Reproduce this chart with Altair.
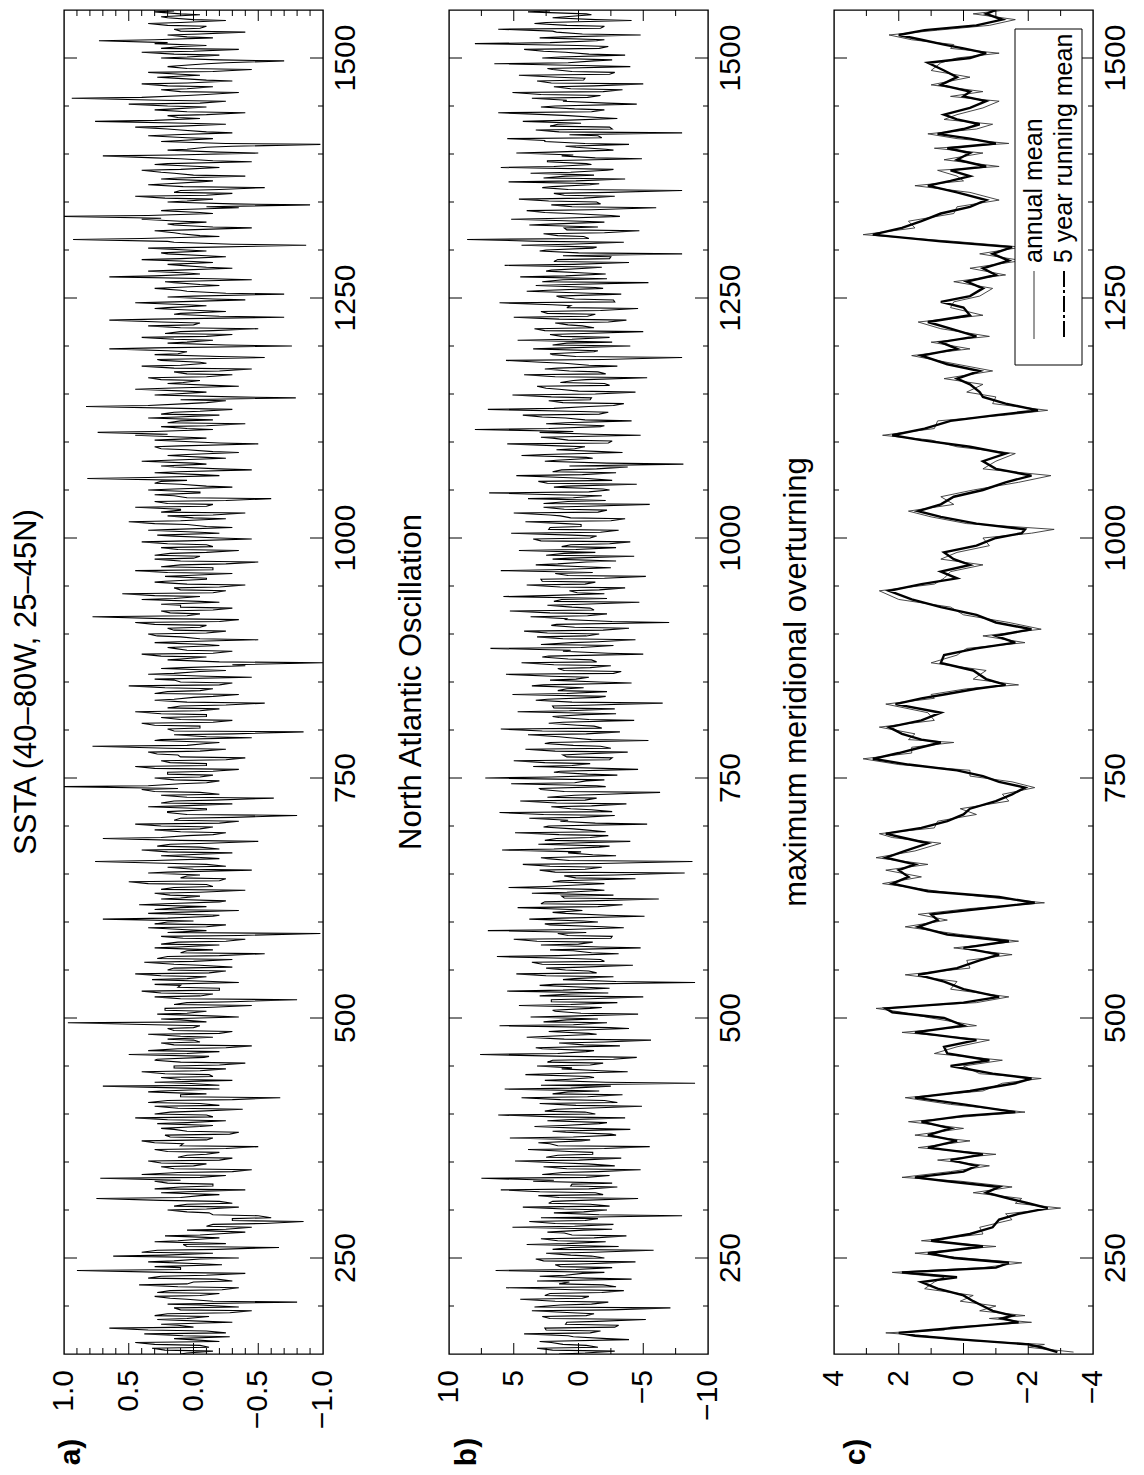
import altair as alt
import pandas as pd

FONT = "Liberation Sans"
W, H = 259, 1344
SPACING = 126
YEAR_DOMAIN = [150, 1550]

# ---------------- panel a: SSTA, years 150, 153, 156, ... ----------------
A_VALS = [
    0.10, -0.15, 0.32, -0.05, 0.45, 0.02, -0.28, 0.38, -0.10, 0.65,
    0.12, -0.30, 0.28, -0.12, 0.20, -0.45, 0.15, -0.05, -0.80, 0.05,
    0.30, -0.20, 0.18, -0.35, 0.42, 0.00, -0.18, 0.25, -0.40, 0.90,
    0.10, -0.22, 0.35, -0.05, 0.62, -0.15, 0.28, -0.66, 0.08, 0.30,
    -0.10, 0.22, -0.30, 0.05, -0.45, -0.15, -0.85, -0.30, -0.50, -0.12,
    0.20, -0.35, 0.05, -0.20, 0.75, -0.05, 0.25, -0.40, 0.10, -0.15,
    0.30, 0.72, -0.25, 0.12, -0.45, 0.25, -0.10, 0.35, -0.30, 0.05,
    -0.20, 0.30, -0.50, 0.08, 0.40, -0.15, 0.22, -0.35, 0.15, -0.05,
    0.28, -0.25, 0.45, -0.10, 0.18, -0.38, 0.30, -0.05, 0.20, -0.67,
    0.10, 0.35, -0.20, 0.70, 0.05, -0.30, 0.25, -0.12, 0.40, -0.25,
    0.15, -0.40, 0.30, -0.08, 0.50, -0.20, 0.12, -0.45, 0.25, 0.00,
    -0.15, 0.35, -0.30, 0.20, -0.05, 0.97, 0.10, -0.35, 0.28, -0.10,
    0.22, -0.45, 0.05, -0.80, 0.30, -0.15, 0.40, -0.20, 0.10, -0.35,
    0.32, -0.10, 0.45, -0.25, 0.15, -0.05, 0.38, -0.30, 0.20, -0.55,
    0.05, 0.30, -0.20, 0.12, -0.40, 0.25, -0.98, -0.10, 0.35, -0.25,
    0.20, 0.70, -0.15, 0.35, -0.35, 0.10, 0.42, -0.20, 0.25, -0.05,
    0.30, -0.40, 0.15, -0.10, 0.50, -0.25, 0.05, 0.35, -0.45, 0.20,
    -0.10, 0.76, -0.20, 0.25, -0.30, 0.40, -0.05, 0.18, -0.50, 0.70,
    0.05, -0.25, 0.30, -0.15, 0.45, -0.35, 0.10, -0.80, 0.20, -0.10,
    0.35, -0.30, 0.15, -0.62, 0.25, -0.05, 0.40, 1.00, 0.10, -0.20,
    0.30, -0.15, 0.20, -0.35, 0.45, -0.10, 0.25, -0.40, 0.12, 0.35,
    -0.25, 0.78, -0.10, 0.30, -0.45, 0.15, -0.85, 0.20, -0.05, 0.40,
    -0.30, 0.25, -0.10, 0.45, -0.20, 0.10, -0.55, 0.30, 0.00, -0.35,
    0.20, -0.15, 0.50, -0.30, 0.15, -0.45, 0.35, -0.05, 0.25, -0.40,
    -1.00, 0.20, -0.10, 0.40, -0.30, 0.15, -0.20, 0.30, -0.50, 0.10,
    0.35, -0.25, 0.20, -0.10, 0.45, -0.35, 0.78, -0.05, 0.25, -0.30,
    0.10, -0.20, 0.40, -0.05, 0.55, -0.25, 0.15, -0.40, 0.30, -0.10,
    0.22, -0.30, 0.45, -0.15, 0.10, -0.50, 0.30, -0.05, 0.18, -0.35,
    0.25, -0.10, 0.40, -0.45, 0.15, -0.20, 0.35, -0.30, 0.05, 0.50,
    -0.25, 0.20, -0.40, 0.10, 0.45, -0.15, 0.30, -0.60, 0.15, -0.05,
    0.35, -0.30, 0.10, 0.25, 0.82, -0.20, 0.30, -0.45, 0.15, -0.10,
    0.40, -0.25, 0.20, -0.35, 0.05, 0.30, -0.50, 0.15, -0.10, 0.45,
    0.74, -0.15, 0.25, -0.40, 0.10, 0.35, -0.20, 0.15, -0.30, 0.83,
    0.05, -0.25, -0.79, 0.30, -0.10, 0.45, -0.35, 0.20, -0.05, 0.35,
    -0.30, 0.15, -0.45, 0.40, -0.10, 0.25, -0.55, 0.30, 0.05, 0.65,
    -0.76, 0.20, -0.15, 0.40, -0.30, 0.10, -0.50, 0.35, -0.05, 0.65,
    -0.70, 0.15, -0.25, 0.30, -0.10, 0.45, -0.40, 0.20, -0.70, 0.05,
    0.30, -0.20, 0.15, -0.45, 0.65, -0.05, 0.35, -0.30, 0.10, -0.15,
    0.40, -0.25, 0.20, -0.10, 0.35, -0.87, 0.15, 0.93, -0.20, 0.10,
    0.30, -0.45, 0.15, -0.10, 0.40, 1.00, -0.15, 0.25, -0.35, -0.90,
    0.20, -0.15, 0.45, -0.30, 0.10, -0.55, 0.35, -0.05, 0.25, -0.40,
    0.15, 0.40, -0.20, 0.30, -0.45, 0.10, 0.70, -0.50, 0.20, -0.10,
    -0.98, 0.25, -0.15, 0.35, -0.30, 0.10, 0.45, -0.25, 0.76, -0.05,
    0.20, -0.40, 0.30, -0.10, 0.50, -0.25, 0.94, 0.05, -0.35, 0.25,
    -0.15, 0.40, -0.30, 0.15, -0.05, 0.35, -0.45, 0.20, -0.10, -0.70,
    0.25, -0.20, 0.40, -0.35, 0.10, 0.30, 0.73, -0.15, 0.20, -0.40,
    0.15, -0.10, 0.35, -0.25, 0.20, -0.05, 0.30,
]
# panel a, in-between years 151, 154, 157, ...
A_VALS2 = [
    0.05, 0.22, -0.12, 0.30, -0.20, 0.15, 0.08, -0.25, 0.35, 0.00,
    0.25, -0.10, 0.05, 0.30, -0.28, 0.10, -0.35, 0.20, -0.15, 0.18,
    -0.05, 0.28, -0.22, 0.12, 0.05, -0.30, 0.35, -0.10, 0.20, 0.10,
    0.30, -0.05, 0.15, -0.35, 0.22, 0.40, -0.18, 0.05, -0.25, 0.12,
    -0.20, -0.05, -0.40, -0.25, -0.10, -0.55, -0.30, -0.60, -0.15, 0.05,
    -0.10, 0.15, -0.30, 0.25, 0.10, -0.20, 0.05, 0.30, -0.15, 0.20,
    0.10, -0.05, 0.40, -0.30, 0.15, 0.00, 0.25, -0.20, 0.12, -0.10,
    0.20, -0.25, 0.10, 0.30, -0.10, 0.18, -0.28, 0.05, 0.25, -0.15,
    0.05, 0.20, -0.15, 0.30, -0.05, 0.12, -0.20, 0.35, -0.30, 0.10,
    -0.10, 0.25, 0.05, -0.20, 0.30, 0.10, -0.15, 0.22, -0.05, 0.15,
    -0.20, 0.10, 0.28, -0.12, 0.05, 0.35, -0.25, 0.15, -0.05, 0.20,
    0.10, -0.20, 0.15, 0.00, 0.30, -0.10, 0.25, -0.18, 0.05, 0.22,
    -0.10, 0.15, -0.30, 0.10, -0.05, 0.25, -0.20, 0.12, 0.30, -0.15,
    0.05, 0.25, -0.12, 0.20, -0.30, 0.15, 0.00, 0.28, -0.20, 0.10,
    -0.15, 0.12, 0.25, -0.25, 0.08, -0.35, 0.20, 0.05, -0.10, 0.30,
    0.00, 0.20, -0.20, 0.15, 0.30, -0.10, 0.22, -0.25, 0.10, 0.18,
    -0.05, 0.25, -0.15, 0.35, -0.20, 0.10, -0.05, 0.20, 0.00, -0.25,
    0.15, 0.30, -0.10, 0.05, 0.20, -0.20, 0.28, -0.12, 0.10, 0.25,
    -0.15, 0.10, -0.05, 0.25, -0.20, 0.15, -0.30, 0.05, 0.20, -0.10,
    0.10, 0.25, -0.15, 0.05, -0.20, 0.30, 0.12, 0.35, -0.10, 0.15,
    -0.05, 0.20, -0.15, 0.30, -0.10, 0.18, -0.25, 0.10, 0.28, -0.05,
    0.20, 0.05, -0.20, 0.25, -0.10, -0.30, 0.15, -0.05, 0.30, -0.15,
    0.10, -0.10, 0.25, -0.05, 0.20, -0.25, 0.05, 0.15, -0.15, 0.30,
    -0.05, 0.22, -0.20, 0.10, 0.30, -0.10, 0.15, -0.25, 0.08, -0.30,
    -0.20, 0.10, 0.25, -0.15, 0.05, 0.20, -0.10, 0.12, -0.05, 0.28,
    -0.10, 0.15, -0.05, 0.30, -0.20, 0.25, 0.05, 0.18, -0.15, 0.10,
    0.25, -0.05, 0.15, 0.30, -0.15, 0.10, -0.20, 0.05, 0.22, -0.10,
    0.05, 0.20, -0.15, 0.25, -0.25, 0.10, 0.00, 0.30, -0.10, 0.12,
    -0.15, 0.20, 0.05, -0.20, 0.28, -0.05, 0.15, -0.10, 0.30, 0.10,
    0.00, -0.15, 0.25, 0.10, -0.10, 0.20, -0.25, 0.05, 0.30, -0.05,
    0.15, -0.10, 0.30, 0.05, 0.35, -0.05, 0.12, -0.20, 0.25, 0.00,
    0.20, -0.10, 0.05, -0.15, 0.25, 0.10, -0.20, 0.30, 0.05, 0.20,
    0.30, 0.05, -0.10, 0.20, -0.15, 0.12, 0.25, -0.05, 0.10, 0.35,
    -0.10, 0.10, -0.30, 0.15, 0.05, 0.22, -0.15, 0.08, 0.25, -0.10,
    0.05, -0.20, 0.15, 0.10, -0.05, 0.28, -0.20, 0.12, 0.20, 0.30,
    -0.25, 0.05, 0.15, -0.10, 0.22, -0.15, 0.10, 0.00, 0.25, 0.30,
    -0.20, 0.10, -0.05, 0.20, 0.05, 0.15, -0.15, 0.00, -0.25, 0.10,
    0.15, -0.05, 0.22, -0.15, 0.30, 0.05, 0.12, -0.10, 0.20, 0.00,
    0.10, -0.10, 0.25, 0.05, -0.15, -0.30, 0.20, 0.40, -0.05, 0.15,
    0.05, -0.15, 0.20, 0.10, 0.25, 0.35, -0.05, 0.15, -0.10, -0.30,
    0.05, 0.22, -0.10, 0.15, -0.20, 0.08, 0.20, -0.15, 0.12, 0.00,
    0.25, 0.10, -0.05, 0.20, -0.15, 0.30, 0.15, -0.20, 0.05, -0.30,
    -0.25, 0.10, 0.05, 0.15, -0.10, 0.20, 0.10, 0.05, 0.30, 0.12,
    -0.10, 0.05, 0.15, 0.20, -0.05, 0.25, 0.40, -0.10, 0.10, 0.05,
    0.20, 0.05, -0.10, 0.28, 0.10, -0.15, 0.05, 0.12, -0.25, -0.20,
    0.05, 0.15, 0.00, 0.25, -0.10, 0.20, 0.30, 0.05, -0.05, 0.10,
    -0.05, 0.20, 0.10, 0.00, 0.25, 0.10, 0.15,
]

# ---------------- panel b: North Atlantic Oscillation, years 150, 153, ... ----------------
B_VALS = [
    1.5, -2.8, 3.2, -0.6, 2.1, -3.9, 0.4, 4.2, -1.7, 2.6,
    -3.1, 0.9, -5.2, 2.8, -1.2, 3.6, -7.1, 1.4, -2.3, 4.5,
    -0.8, 2.2, -3.5, 5.6, -1.9, 0.7, -4.1, 3.0, -0.3, 6.4,
    -2.6, 1.8, -4.4, 3.3, -1.0, 2.5, -5.8, 0.6, 4.0, -2.1,
    2.9, -3.7, 1.1, -0.4, 5.1, -2.7, 3.8, -1.5, -8.0, 1.9,
    -2.2, 4.3, -0.9, 2.0, -4.6, 3.1, -1.3, 6.0, -3.0, 0.5,
    3.5, 7.5, -2.4, 1.2, -4.8, 2.7, -0.7, 4.9, -3.3, 1.6,
    -1.1, 3.9, -5.5, 2.2, -0.2, 5.3, -2.9, 1.0, -4.0, 3.4,
    -1.6, 2.4, -3.6, 6.2, -0.5, 1.7, -4.9, 3.0, -2.0, 4.4,
    -3.4, 0.8, 5.7, -2.5, -9.0, 2.6, -1.2, 4.1, -3.8, 1.3,
    3.2, -1.9, 2.0, -4.5, 7.6, -0.6, 2.8, -3.2, 1.5, -5.6,
    4.0, -1.4, 2.3, -3.9, 6.1, -2.2, 0.9, 3.7, -4.6, 1.8,
    -0.9, 4.6, -3.0, 2.1, -5.0, 0.6, 5.5, -2.4, 3.0, -9.0,
    1.2, -2.7, 4.8, -0.8, 2.5, -4.2, 3.6, -1.7, 6.3, -3.1,
    0.4, -4.8, 2.9, -1.1, 5.0, -2.6, 1.6, 7.0, -3.5, 2.2,
    -1.5, 3.8, -5.1, 1.0, -0.3, 4.7, -3.4, 2.6, -6.2, 1.3,
    3.6, -2.0, 5.4, -0.7, 2.0, -4.4, 1.1, -8.2, 3.0, -1.8,
    4.3, -8.8, 2.4, -2.9, 0.8, 5.9, -1.6, 3.1, -4.0, 1.7,
    -2.3, 4.9, -0.5, 2.7, -5.3, 1.4, 3.8, -2.8, 6.1, -1.0,
    2.1, -3.7, 4.5, -1.4, 0.3, -6.3, 2.9, -2.1, 5.2, -0.6,
    7.2, -3.0, 1.9, -4.6, 3.5, -0.9, 5.0, -2.6, 1.2, -3.8,
    4.1, -1.7, 2.6, -5.4, 0.7, 3.9, -3.2, 6.0, -1.2, 2.3,
    -4.3, 1.5, -0.4, 4.7, -2.8, 2.0, -6.5, 3.3, -1.5, 5.1,
    -2.2, 0.9, 3.6, -4.1, 2.2, -0.8, 5.6, -3.3, 1.6, -2.5,
    4.4, -1.0, 2.8, -5.0, 1.2, 6.8, -2.7, 0.5, -4.4, 3.2,
    -1.6, 4.2, -3.9, 2.1, -7.0, 1.0, 3.7, -2.2, 5.3, -0.9,
    2.4, -4.7, 1.3, 5.8, -2.0, 0.7, -3.6, 4.0, -1.3, 2.9,
    -5.2, 1.8, 6.0, -2.5, 3.3, -0.6, 2.0, -4.3, 1.1, 4.6,
    -2.9, 0.6, -4.0, 3.5, -1.4, 5.2, -3.1, 2.2, -0.2, 4.1,
    -3.6, 1.4, 5.0, -2.2, 2.7, -5.5, 0.8, 3.9, -1.8, 6.9,
    -2.4, 1.9, -4.5, 3.1, -0.7, 4.8, -2.9, 1.3, -3.8, -8.1,
    2.6, -1.1, 4.4, -3.4, 1.7, -0.5, 5.5, -2.6, 2.0, -4.8,
    3.0, 8.0, -1.7, 2.5, -4.1, 1.0, 4.3, -2.3, 7.0, -0.8,
    -3.5, 2.3, -1.0, 5.1, -4.4, 1.5, 3.2, -2.0, 0.4, -5.3,
    4.2, -1.5, 2.6, -3.0, 1.1, 5.6, -8.0, 2.0, -1.2, 3.5,
    -4.0, 0.9, 4.7, -2.4, 2.2, -5.0, 3.4, -0.3, 1.8, -3.7,
    5.0, -1.3, 2.9, -4.6, 0.6, 6.1, -2.7, 1.5, -3.3, 4.0,
    -1.9, 3.3, -5.4, 1.2, 4.5, -2.1, 2.5, -0.6, 5.7, -3.9,
    1.6, -2.5, -8.0, 3.0, -1.1, 4.4, -3.5, 8.6, -0.4, 2.7,
    -4.7, 1.1, 3.8, -2.0, 5.2, -3.2, 0.7, 4.0, -6.0, 2.1,
    -1.4, 4.6, -2.8, 1.9, -8.0, 2.8, -0.9, 5.4, -3.6, 1.0,
    3.7, -2.2, 6.0, -1.0, 2.4, -4.9, 1.3, 4.8, -2.7, 0.2,
    -3.9, 2.6, 5.5, -1.5, -8.0, 3.3, -2.4, 1.6, 4.3, -3.0,
    0.8, 6.2, -2.0, 2.9, -4.5, 1.2, 3.6, -1.7, 5.1, -3.4,
    1.9, -5.0, 3.2, -0.5, 4.6, -2.8, 2.0, -4.0, 6.5, -1.2,
    2.8, -3.6, 1.0, 4.2, -2.3, 8.0, -1.4, 3.0, -4.8, 1.7,
    6.2, -2.0, 3.4, -4.1, 2.0, -1.0, 3.9,
]
# panel b, in-between years 151, 154, 157, ...
B_VALS2 = [
    -0.5, 2.0, -1.5, 1.2, 3.0, -2.2, 0.8, -0.9, 2.5, -2.8,
    1.0, -1.4, 2.2, -0.6, 0.5, -2.5, 3.4, -1.0, 1.8, -0.3,
    2.6, -1.8, 0.4, -2.9, 1.5, 3.2, -0.7, 1.0, -2.0, 0.2,
    1.4, -0.8, 2.7, -2.0, 0.6, -1.2, 2.0, -3.1, 0.9, 1.6,
    -1.2, 0.5, 2.4, -2.6, 0.3, 1.8, -0.5, 2.9, -1.6, -0.4,
    1.1, -2.4, 2.3, -0.2, 1.5, -1.9, 3.0, -0.8, 0.6, -2.6,
    1.9, -0.6, 2.8, -1.5, 0.9, -2.8, 1.2, 0.0, 2.5, -1.1,
    0.7, -2.0, 1.6, 3.1, -0.9, 0.4, -2.5, 2.0, -0.4, 1.2,
    -2.2, 0.9, 1.8, -1.3, 2.6, -0.5, 0.2, -3.0, 1.4, -0.7,
    2.0, -1.6, 0.6, 2.9, -2.1, 1.0, -0.8, 2.2, -1.7, 0.5,
    -0.9, 2.4, -2.7, 0.8, 1.6, -1.2, 3.3, -0.4, -2.0, 1.1,
    2.3, -0.8, 1.0, -2.4, 0.4, 2.7, -1.5, 0.7, -0.2, 2.0,
    -1.8, 0.6, 2.1, -0.9, 3.0, -2.3, 1.2, -0.5, 1.9, -2.9,
    0.3, 2.5, -1.4, 1.0, -0.3, 2.8, -2.0, 0.5, 1.6, -1.0,
    2.2, -1.7, 0.0, 3.2, -2.5, 0.8, -0.6, 1.5, -1.9, 2.6,
    -0.4, 1.3, -2.2, 2.0, 0.6, -1.5, 2.9, -0.8, 1.1, -2.7,
    0.9, -1.0, 2.5, -2.0, 1.4, 0.2, -2.8, 1.8, -0.5, 2.2,
    -1.6, 0.7, 2.9, -1.1, -0.2, 1.9, -2.4, 1.0, 2.6, -0.9,
    1.5, -2.1, 0.4, 2.3, -1.3, 0.8, -0.1, 2.7, -2.6, 0.6,
    -1.0, 1.7, -0.5, 2.4, -2.2, 1.1, 3.0, -1.4, 0.3, -2.0,
    2.1, -0.7, 1.4, -1.9, 0.5, 2.6, -2.4, 0.9, -0.3, 1.8,
    -2.5, 0.4, 2.2, -1.0, 1.5, -0.6, 2.8, -1.8, 0.1, 1.2,
    -0.8, 2.0, -2.9, 0.7, 1.9, -1.2, 0.5, 2.4, -2.1, 0.9,
    1.6, -0.4, 2.7, -1.6, 0.2, 2.1, -2.7, 1.1, -0.9, 1.9,
    -1.4, 0.8, 2.3, -2.3, 0.6, -0.2, 2.9, -1.5, 1.2, -0.6,
    2.4, -1.9, 0.3, 1.7, -2.6, 0.9, -0.7, 2.2, -1.2, 0.5,
    -0.3, 1.9, -2.2, 2.6, 0.1, -1.6, 1.4, -0.5, 2.8, -2.0,
    0.8, -1.1, 2.0, -0.4, 1.6, -2.9, 0.7, 2.5, -1.3, 0.2,
    1.3, -2.4, 2.9, -0.9, 0.5, -1.7, 2.3, -0.2, 1.0, -2.5,
    0.6, 2.2, -1.5, 1.1, -0.7, 2.7, -2.1, 0.4, 1.8, -0.8,
    -1.9, 0.9, 2.4, -2.6, 1.2, -0.3, 2.0, -1.4, 0.7, -2.2,
    1.7, -0.6, 2.6, -1.8, 0.3, 1.5, -2.3, 0.8, 2.9, -1.1,
    0.4, 2.3, -2.0, 1.0, -0.5, 2.8, -1.6, 0.6, 1.9, -2.7,
    1.2, -0.9, 2.1, -1.3, 0.0, 2.5, -2.4, 1.4, -0.6, 1.8,
    -2.1, 0.7, 1.6, -0.8, 2.9, -1.9, 0.2, 2.2, -1.5, 0.9,
    2.0, -2.6, 0.5, 1.3, -0.4, 2.6, -1.2, 0.8, -2.3, 1.5,
    -0.7, 2.4, -1.7, 0.9, 2.0, -2.8, 0.3, 1.7, -0.9, 2.3,
    -1.3, 0.6, 2.8, -2.2, 1.0, -0.5, 2.1, -1.8, 0.4, 1.9,
    -2.4, 1.2, 0.0, 2.5, -1.4, 0.7, 2.9, -0.8, 1.6, -2.0,
    0.9, -1.5, 2.2, -0.3, 1.4, -2.5, 2.6, -1.0, 0.5, -1.7,
    2.3, -0.4, 1.1, -2.3, 0.8, 2.0, -1.6, 0.2, 2.7, -1.2,
    0.6, -2.7, 1.9, -0.6, 2.4, -1.3, 0.4, 2.1, -2.1, 1.0,
    -0.5, 2.6, -1.8, 0.7, 1.5, -2.6, 2.2, -0.2, 1.3, -1.5,
    2.5, -1.0, 0.3, 1.8, -2.2, 0.9, -0.7, 2.9, -1.9, 0.6,
    -1.2, 2.1, -0.4, 1.6, -2.4, 0.5, 2.4, -1.1, 0.8, -2.6,
    1.4, -0.8, 2.7, -1.6, 0.1, 2.2, -2.0, 1.1, -0.3, 2.0,
    -1.7, 0.9, 2.5, -1.3, 1.0, -0.6, 2.2,
]

A_YEARS = list(range(150, 150 + 3 * len(A_VALS), 3))
A_YEARS2 = list(range(151, 151 + 3 * len(A_VALS2), 3))
B_YEARS = list(range(150, 150 + 3 * len(B_VALS), 3))
B_YEARS2 = list(range(151, 151 + 3 * len(B_VALS2), 3))

# ---------------- panel c: maximum meridional overturning ----------------
C_YEARS = [
    152, 157, 160, 165, 169, 172, 175, 178, 183, 187,
    190, 195, 200, 205, 211, 218, 225, 230, 235, 240,
    245, 250, 255, 262, 268, 275, 282, 290, 296, 302,
    307, 312, 318, 324, 330, 334, 340, 346, 352, 358,
    365, 372, 378, 385, 392, 398, 402, 410, 417, 424,
    432, 437, 442, 450, 456, 463, 470, 477, 485, 492,
    500, 506, 510, 516, 522, 530, 538, 545, 552, 560,
    566, 573, 580, 587, 595, 602, 608, 614, 620, 626,
    632, 640, 647, 654, 660, 667, 674, 682, 688, 692,
    698, 705, 712, 718, 726, 733, 740, 746, 752, 758,
    764, 770, 776, 782, 787, 790, 796, 803, 810, 818,
    827, 833, 837, 843, 847, 853, 862, 870, 878, 885,
    891, 898, 905, 912, 920, 928, 936, 945, 952, 958,
    965, 972, 978, 985, 992, 1000, 1005, 1009, 1015, 1022,
    1028, 1035, 1043, 1050, 1058, 1065, 1072, 1080, 1088, 1095,
    1102, 1107, 1114, 1122, 1128, 1133, 1140, 1147, 1152, 1160,
    1166, 1174, 1181, 1190, 1197, 1204, 1210, 1218, 1225, 1232,
    1240, 1246, 1252, 1260, 1267, 1274, 1281, 1289, 1296, 1303,
    1309, 1316, 1323, 1330, 1338, 1345, 1352, 1360, 1367, 1372,
    1377, 1383, 1387, 1394, 1401, 1406, 1411, 1416, 1421, 1426,
    1431, 1436, 1441, 1448, 1455, 1460, 1465, 1472, 1480, 1487,
    1495, 1500, 1505, 1510, 1514, 1519, 1524, 1529, 1534, 1540,
    1546, 1550,
]
C_RUN = [
    -2.9, -2.4, -2.0, 0.0, 1.5, 2.0, 1.0, 0.0, -1.7, -1.2,
    -1.5, -0.9, -0.6, -0.3, 0.0, 0.8, 1.3, 0.2, 1.9, -1.0,
    -1.4, 0.3, 1.1, -0.6, 1.0, -0.2, -0.9, -1.1, -1.7, -2.6,
    -2.0, -1.4, -0.7, -1.1, 0.5, 1.5, 0.0, -0.4, 0.4, -0.6,
    1.1, 0.2, 1.1, 0.4, 1.3, 0.0, -1.6, 0.0, 1.5, -0.2,
    -1.6, -2.1, -0.9, 0.4, -0.8, 0.5, 0.6, -0.4, 1.5, 0.0,
    0.6, 2.2, 2.4, 0.0, -1.1, 0.0, 0.6, 1.4, 0.2, -0.5,
    -1.1, 0.0, -1.4, 0.5, 1.4, 0.8, 1.0, -0.6, -2.2, -1.1,
    1.1, 2.2, 1.7, 2.0, 1.5, 2.4, 1.8, 1.1, 1.9, 2.4,
    1.3, 0.5, 0.0, -0.2, -1.0, -1.5, -1.9, -1.1, -0.6, 0.2,
    1.7, 2.8, 2.0, 1.3, 0.7, 1.3, 1.9, 2.3, 1.3, 0.7,
    2.1, 1.3, 0.6, -0.4, -1.3, -0.7, -0.3, 0.7, 0.6, -0.4,
    -1.6, -1.0, -2.1, -1.0, -0.4, 0.7, 1.6, 2.3, 1.3, 0.2,
    0.7, -0.2, 0.3, 0.6, -0.4, -1.0, -1.8, -1.9, -0.4, 0.7,
    1.4, 0.7, 0.3, -0.6, -1.3, -2.1, -1.0, -0.6, -1.3, -0.2,
    1.3, 2.2, 1.2, 0.4, -1.0, -2.3, -1.3, -0.6, -0.5, -0.2,
    0.2, -0.5, 0.5, 1.3, 0.2, 0.7, -0.4, 0.4, 1.1, -0.2,
    0.0, 0.7, -0.2, -0.6, -0.1, -1.0, -0.6, -1.4, -0.9, -1.5,
    0.7, 2.8, 1.9, 1.3, 0.7, -0.2, -0.7, 0.2, 1.1, 0.4,
    -0.2, 0.4, -0.7, 0.2, -0.2, 0.5, -1.0, -0.2, 0.8, 0.0,
    -0.5, 0.2, 0.6, -0.2, -0.7, 0.0, -0.2, 0.7, 0.2, 0.6,
    1.1, -0.2, -0.7, 0.0, 0.6, 1.3, 2.0, 1.2, -0.4, -1.2,
    -0.7, -1.0,
]
C_ANN = [
    -3.4, -2.0, -2.5, 0.4, 1.2, 2.4, 0.6, 0.4, -2.1, -0.8,
    -1.9, -0.5, -1.0, 0.1, -0.3, 1.2, 0.9, 0.6, 2.2, -0.6,
    -1.8, 0.0, 1.5, -1.0, 1.3, -0.6, -0.5, -1.5, -1.3, -3.0,
    -1.6, -1.8, -0.3, -1.5, 0.1, 1.9, 0.4, -0.8, 0.8, -1.0,
    1.4, -0.2, 1.5, 0.0, 1.7, -0.4, -1.9, 0.4, 1.8, -0.6,
    -1.2, -2.4, -0.5, 0.0, -1.2, 0.9, 0.2, -0.8, 1.9, -0.4,
    1.0, 1.9, 2.7, -0.4, -1.4, 0.4, 0.2, 1.8, -0.2, -0.1,
    -1.5, 0.3, -1.7, 0.1, 1.8, 0.5, 1.4, -0.2, -2.5, -0.7,
    0.8, 2.5, 1.3, 2.4, 1.1, 2.7, 1.5, 0.7, 2.2, 2.6,
    0.9, 0.8, -0.4, 0.1, -1.4, -1.2, -2.2, -1.5, -0.2, -0.2,
    2.0, 3.1, 1.6, 1.6, 0.3, 1.7, 1.5, 2.6, 0.9, 1.1,
    2.4, 0.9, 1.0, -0.1, -1.7, -0.3, -0.7, 1.0, 0.2, -0.1,
    -1.9, -0.6, -2.4, -1.4, 0.0, 0.4, 2.0, 2.6, 0.9, 0.6,
    0.4, -0.6, 0.7, 0.2, -0.8, -0.6, -2.1, -2.8, -0.1, 1.0,
    1.7, 0.3, 0.7, -0.3, -1.7, -2.7, -0.6, -1.0, -1.6, 0.2,
    1.0, 2.5, 0.9, 0.8, -1.3, -2.6, -0.9, -1.0, -0.1, -0.6,
    0.6, -0.9, 0.2, 1.6, -0.2, 1.0, -0.8, 0.7, 1.4, -0.6,
    0.4, 0.3, -0.5, -0.9, 0.3, -1.3, -0.2, -1.8, -0.5, -1.8,
    0.3, 3.1, 1.5, 1.7, 0.3, 0.2, -1.1, -0.2, 1.5, 0.0,
    0.2, 0.8, -1.1, 0.6, -0.6, 0.9, -1.4, 0.2, 1.1, -0.4,
    -0.9, 0.6, 0.2, -0.6, -1.1, 0.4, -0.6, 1.0, -0.2, 1.0,
    0.7, 0.2, -1.1, 0.4, 0.3, 1.6, 2.3, 0.8, -0.8, -1.6,
    -0.3, -1.3,
]

# ---------------- tick positions and tick labels ----------------
YEAR_TICKS = [250, 500, 750, 1000, 1250, 1500]
YEAR_TICK_LABELS = ["250", "500", "750", "1000", "1250", "1500"]
YEAR_MINOR = [200, 300, 350, 400, 450, 550, 600, 650, 700, 800, 850, 900, 950,
              1050, 1100, 1150, 1200, 1300, 1350, 1400, 1450]

A_TICKS = [1.0, 0.5, 0.0, -0.5, -1.0]
A_TICK_LABELS = ["1.0", "0.5", "0.0", "\u22120.5", "\u22121.0"]
A_MAJOR = [0.5, 0.0, -0.5]
A_MINOR = [0.9, 0.8, 0.7, 0.6, 0.4, 0.3, 0.2, 0.1, -0.1, -0.2, -0.3, -0.4,
           -0.6, -0.7, -0.8, -0.9]
B_TICKS = [10, 5, 0, -5, -10]
B_TICK_LABELS = ["10", "5", "0", "\u22125", "\u221210"]
B_MAJOR = [5, 0, -5]
B_MINOR = [7.5, 2.5, -2.5, -7.5]
C_TICKS = [4, 2, 0, -2, -4]
C_TICK_LABELS = ["4", "2", "0", "\u22122", "\u22124"]
C_MAJOR = [2, 0, -2]
C_MINOR = [3, 1, -1, -3]

TITLES = ["SSTA (40–80W, 25–45N)", "North Atlantic Oscillation",
          "maximum meridional overturning"]
LETTERS = ["a)", "b)", "c)"]
LEGEND_LABELS = ["annual mean", "5 year running mean"]


def yscale():
    return alt.Scale(domain=YEAR_DOMAIN, nice=False, zero=False)


def xscale(lim):
    return alt.Scale(domain=[-lim, lim], reverse=True, nice=False, zero=False)


def frame_layers(lim, ticks, tick_labels, major, minor):
    xs, ys = xscale(lim), yscale()
    out = []
    # inward ticks on all four sides
    for vals, ln in ((major, 11), (minor, 6)):
        d = pd.DataFrame({"t": vals})
        out.append(alt.Chart(d).mark_rule(color="black", strokeWidth=1).encode(
            x=alt.X("t:Q", scale=xs, axis=None), y=alt.value(H), y2=alt.value(H - ln)))
        out.append(alt.Chart(d).mark_rule(color="black", strokeWidth=1).encode(
            x=alt.X("t:Q", scale=xs, axis=None), y=alt.value(0), y2=alt.value(ln)))
    for vals, ln in ((YEAR_TICKS, 13), (YEAR_MINOR, 5)):
        d = pd.DataFrame({"t": vals})
        out.append(alt.Chart(d).mark_rule(color="black", strokeWidth=1).encode(
            y=alt.Y("t:Q", scale=ys, axis=None), x=alt.value(0), x2=alt.value(ln)))
        out.append(alt.Chart(d).mark_rule(color="black", strokeWidth=1).encode(
            y=alt.Y("t:Q", scale=ys, axis=None), x=alt.value(W), x2=alt.value(W - ln)))
    # value tick labels (below, rotated)
    dv = pd.DataFrame({"t": ticks, "s": tick_labels})
    out.append(alt.Chart(dv).mark_text(
        angle=270, align="right", baseline="middle", fontSize=30, font=FONT,
        color="black").encode(x=alt.X("t:Q", scale=xs, axis=None),
                              y=alt.value(H + 16), text="s:N"))
    # year tick labels (right side, rotated)
    dy = pd.DataFrame({"t": YEAR_TICKS, "s": YEAR_TICK_LABELS})
    out.append(alt.Chart(dy).mark_text(
        angle=270, align="center", baseline="top", fontSize=30, font=FONT,
        color="black").encode(y=alt.Y("t:Q", scale=ys, axis=None),
                              x=alt.value(W + 8), text="s:N"))
    return out


def text_layers(title, letter, letter_dx):
    t = alt.Chart(pd.DataFrame({"t": [title]})).mark_text(
        angle=270, align="center", baseline="middle", fontSize=31, font=FONT,
        color="black").encode(x=alt.value(-37), y=alt.value(H / 2), text="t:N")
    l = alt.Chart(pd.DataFrame({"t": [letter]})).mark_text(
        angle=270, align="center", baseline="middle", fontSize=30, font=FONT,
        fontWeight="bold", color="black").encode(
        x=alt.value(letter_dx), y=alt.value(H + 98), text="t:N")
    return [t, l]


def simple_panel(years, vals, years2, vals2, lim, ticks, tick_labels, major, minor,
                 title, letter, ldx):
    df = pd.concat([pd.DataFrame({"year": years, "v": vals}),
                    pd.DataFrame({"year": years2, "v": vals2})], ignore_index=True)
    line = alt.Chart(df).mark_line(color="black", strokeWidth=1.1, clip=True).encode(
        x=alt.X("v:Q", scale=xscale(lim), axis=None),
        y=alt.Y("year:Q", scale=yscale(), axis=None),
        order=alt.Order("year:Q"))
    layers = [line] + frame_layers(lim, ticks, tick_labels, major, minor) + \
        text_layers(title, letter, ldx)
    return alt.layer(*layers).properties(width=W, height=H)


pa = simple_panel(A_YEARS, A_VALS, A_YEARS2, A_VALS2, 1.0, A_TICKS, A_TICK_LABELS,
                  A_MAJOR, A_MINOR, TITLES[0], LETTERS[0], 7)
pb = simple_panel(B_YEARS, B_VALS, B_YEARS2, B_VALS2, 10, B_TICKS, B_TICK_LABELS,
                  B_MAJOR, B_MINOR, TITLES[1], LETTERS[1], 18)

dfc = pd.DataFrame({"year": C_YEARS, "run": C_RUN, "ann": C_ANN})
ann = alt.Chart(dfc).mark_line(color="#333333", strokeWidth=0.9, clip=True).encode(
    x=alt.X("ann:Q", scale=xscale(4), axis=None),
    y=alt.Y("year:Q", scale=yscale(), axis=None),
    order=alt.Order("year:Q"))
run = alt.Chart(dfc).mark_line(color="black", strokeWidth=2.4, clip=True).encode(
    x=alt.X("run:Q", scale=xscale(4), axis=None),
    y=alt.Y("year:Q", scale=yscale(), axis=None),
    order=alt.Order("year:Q"))

one = pd.DataFrame({"a": [0]})
box = alt.Chart(one).mark_rect(fill="white", stroke="black", strokeWidth=1).encode(
    x=alt.value(181), x2=alt.value(248), y=alt.value(19), y2=alt.value(355))
samp1 = alt.Chart(one).mark_rule(color="black", strokeWidth=0.8).encode(
    x=alt.value(200), y=alt.value(261), y2=alt.value(329))
samp2 = alt.Chart(one).mark_rule(color="black", strokeWidth=2, strokeDash=[16, 3, 3, 3]).encode(
    x=alt.value(230), y=alt.value(261), y2=alt.value(329))
leg_t1 = alt.Chart(pd.DataFrame({"t": [LEGEND_LABELS[0]]})).mark_text(
    angle=270, align="left", baseline="middle", fontSize=25, font=FONT,
    color="black").encode(x=alt.value(200), y=alt.value(253), text="t:N")
leg_t2 = alt.Chart(pd.DataFrame({"t": [LEGEND_LABELS[1]]})).mark_text(
    angle=270, align="left", baseline="middle", fontSize=25, font=FONT,
    color="black").encode(x=alt.value(230), y=alt.value(253), text="t:N")

pc = alt.layer(
    ann, run, *frame_layers(4, C_TICKS, C_TICK_LABELS, C_MAJOR, C_MINOR),
    box, samp1, samp2, leg_t1, leg_t2,
    *text_layers(TITLES[2], LETTERS[2], 22)
).properties(width=W, height=H)

chart = alt.hconcat(pa, pb, pc, spacing=SPACING, bounds="flush").properties(
    padding={"left": 2, "top": 0, "right": 0, "bottom": 0},
    background="white",
).configure_view(stroke="black", strokeWidth=1.4)

chart.save("out.html", embed_options={"renderer": "svg", "actions": False})
